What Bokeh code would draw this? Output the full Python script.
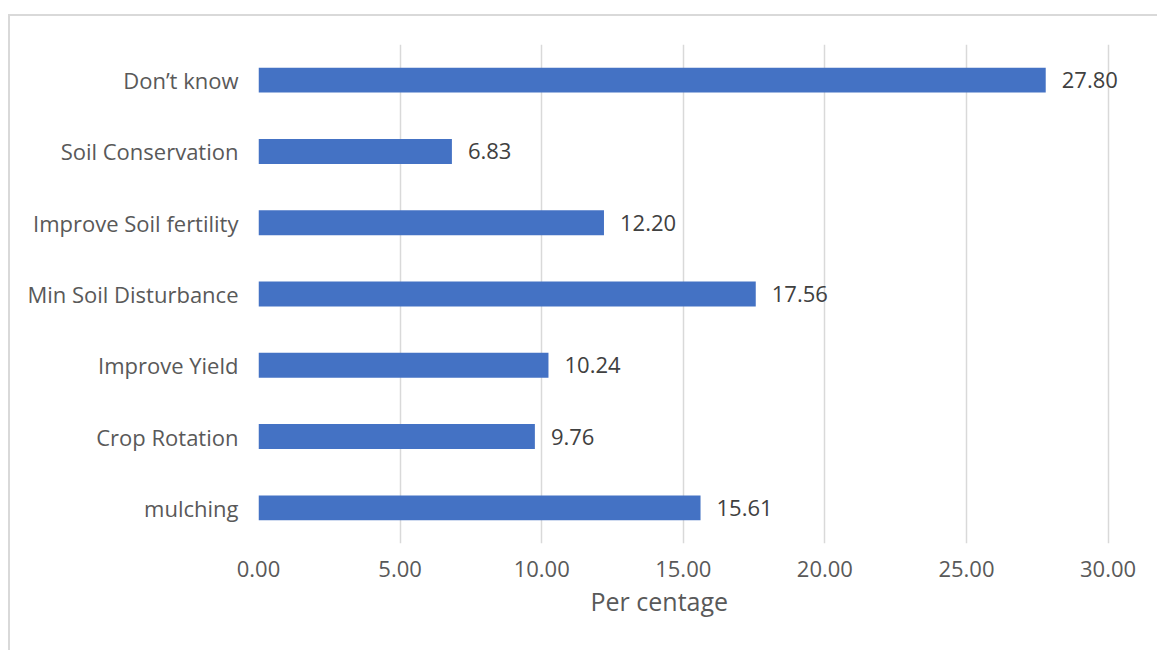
from bokeh.plotting import figure
from bokeh.models import ColumnDataSource, FixedTicker, NumeralTickFormatter, Range1d, Title
from bokeh.core.properties import value
from bokeh.embed import file_html
from bokeh.resources import INLINE

# Reasons given, listed bottom to top as drawn on the category axis
categories = ["mulching", "Crop Rotation", "Improve Yield", "Min Soil Disturbance",
              "Improve Soil fertility", "Soil Conservation", "Don’t know"]
percentages = [15.61, 9.76, 10.24, 17.56, 12.20, 6.83, 27.80]
x_ticks = [0, 5, 10, 15, 20, 25, 30]
x_title = "Per centage"

FONT = "Open Sans"
GREY = "#595959"
TEXT_SIZE = "22px"

src = ColumnDataSource(dict(
    cat=categories,
    val=percentages,
    lab=[f"{v:.2f}" for v in percentages],
))

# the frame runs a little past 30 so the longest value label has room
p = figure(
    width=1149, height=636,
    y_range=categories,
    x_range=Range1d(0, 31.5),
    output_backend="svg",
    toolbar_location=None,
    margin=(14, 0, 0, 8),
    styles={"border-top": "2px solid #d9d9d9", "border-left": "2px solid #d9d9d9"},
    min_border_left=248, min_border_right=9,
    min_border_top=28, min_border_bottom=109,
)
p.outline_line_color = None
p.background_fill_color = "white"
p.border_fill_color = "white"

p.hbar(y="cat", right="val", left=0, height=0.35, source=src,
       fill_color="#4472C4", line_color=None)

# value labels at the end of each bar
p.text(x="val", y="cat", text="lab", source=src, x_offset=16,
       text_baseline="middle", text_align="left",
       text_font=value(FONT), text_font_size=TEXT_SIZE, text_color="#404040")

# x axis: tick labels only, vertical gridlines
xa = p.xaxis[0]
xa.ticker = FixedTicker(ticks=x_ticks)
xa.formatter = NumeralTickFormatter(format="0.00")
xa.axis_line_color = None
xa.major_tick_line_color = None
xa.minor_tick_line_color = None
xa.major_label_text_font = FONT
xa.major_label_text_font_size = TEXT_SIZE
xa.major_label_text_color = GREY
xa.major_label_standoff = 11

ya = p.yaxis[0]
ya.axis_line_color = None
ya.major_tick_line_color = None
ya.minor_tick_line_color = None
ya.major_label_text_font = FONT
ya.major_label_text_font_size = TEXT_SIZE
ya.major_label_text_color = GREY
ya.major_label_standoff = 14

p.xgrid.grid_line_color = "#d9d9d9"
p.xgrid.grid_line_width = 1.5
p.ygrid.grid_line_color = None

# axis title below the tick labels
p.add_layout(Title(text=x_title, align="left", offset=332, standoff=4,
                   text_font=FONT, text_font_size="25px", text_color=GREY,
                   text_font_style="normal"), "below")

open("out.html", "w").write(file_html(p, INLINE))
